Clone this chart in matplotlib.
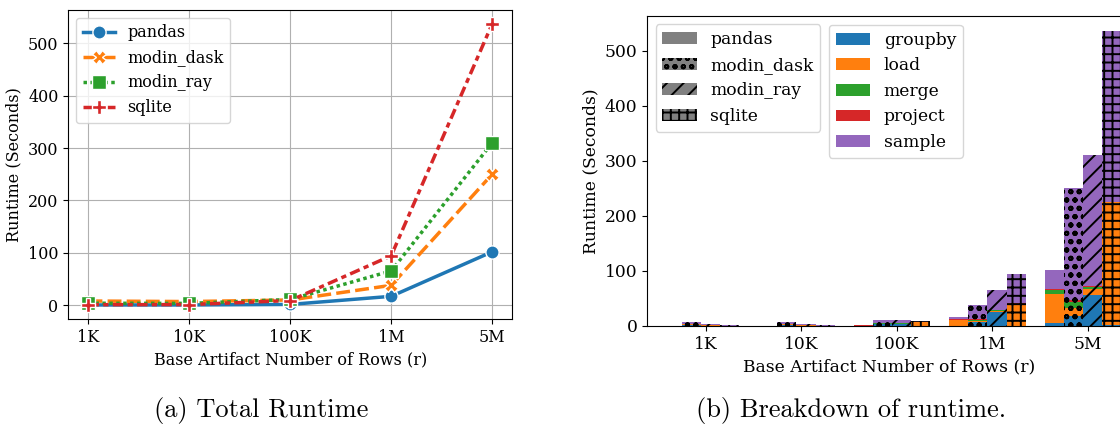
import numpy as np
import matplotlib
matplotlib.use("Agg")
import matplotlib.pyplot as plt
from matplotlib.patches import Patch

plt.rcParams['font.family'] = ['DejaVu Serif']
plt.rcParams['font.size'] = 12
plt.rcParams['hatch.linewidth'] = 1.4
plt.rcParams['hatch.color'] = 'black'

# ---------------- data ----------------
sizes = ['1K', '10K', '100K', '1M', '5M']
systems = ['pandas', 'modin_dask', 'modin_ray', 'sqlite']
operations = ['groupby', 'load', 'merge', 'project', 'sample']

# rows: groupby, load, merge, project, sample ; columns: sizes
pandas_times = [
    [0.1, 0.1, 0.3, 0.5, 5],
    [0.2, 0.2, 0.5, 11, 54],
    [0.05, 0.05, 0.1, 0.3, 7],
    [0.05, 0.05, 0.05, 0.2, 2],
    [0.1, 0.1, 0.6, 5, 34],
]
modin_dask_times = [
    [1.5, 1.2, 3, 7, 18],
    [2.5, 2.3, 1.5, 2.5, 15],
    [0.3, 0.3, 0.5, 2, 10],
    [0.2, 0.2, 0.2, 0.5, 4],
    [3.5, 3.0, 4.8, 26, 203],
]
modin_ray_times = [
    [0.8, 0.5, 3, 25, 56],
    [0.8, 1.5, 1.5, 2, 11],
    [0.8, 0.2, 0.5, 2, 4],
    [0.2, 0.1, 0.3, 0.5, 1],
    [1.2, 1.2, 5.7, 36, 238],
]
sqlite_times = [
    [0.05, 0.05, 0.3, 0.5, 1],
    [0.3, 0.5, 6.5, 40, 224],
    [0.05, 0.05, 0.1, 0.2, 0.5],
    [0.1, 0.1, 0.1, 0.5, 0.5],
    [0.5, 0.5, 2, 53.3, 311],
]

# ---------------- styles ----------------
sys_colors = ['#1f77b4', '#ff7f0e', '#2ca02c', '#d62728']
sys_markers = ['o', 'X', 's', 'P']
sys_dashes = [(None, None), (4, 1.5), (1, 1), (3, 1.25, 1.5, 1.25)]
sys_hatches = ['', 'oo', '//', '++']
op_colors = ['#1f77b4', '#ff7f0e', '#2ca02c', '#d62728', '#9467bd']
bar_offsets = [-0.35, -0.15, 0.05, 0.25]
bar_width = 0.2
fs_left = 11.5
fs_right = 12.3

all_times = [np.array(pandas_times), np.array(modin_dask_times),
             np.array(modin_ray_times), np.array(sqlite_times)]

fig = plt.figure(figsize=(11.2, 4.29), dpi=100)

# ---------------- left: total runtime ----------------
ax1 = fig.add_axes([68.3 / 1120, 110 / 429, 444 / 1120, 309 / 429])
x = np.arange(len(sizes))
for i, name in enumerate(systems):
    totals = all_times[i].sum(axis=0)
    line, = ax1.plot(x, totals, color=sys_colors[i], marker=sys_markers[i],
                     markersize=9.5, markeredgecolor='white', markeredgewidth=1,
                     linewidth=2.5, label=name)
    if sys_dashes[i][0] is not None:
        line.set_dashes(sys_dashes[i])
ax1.set_xticks(x)
ax1.set_xticklabels(sizes)
ax1.set_yticks([0, 100, 200, 300, 400, 500])
ax1.tick_params(labelsize=fs_left)
ax1.grid(True, color='#b0b0b0', linewidth=0.8)
ax1.set_axisbelow(True)
ax1.set_xlabel('Base Artifact Number of Rows (r)', fontsize=fs_left)
ax1.set_ylabel('Runtime (Seconds)', fontsize=fs_left)
ax1.legend(loc='upper left', fontsize=fs_left)

# ---------------- right: breakdown ----------------
xl, xr = -0.615, 4.45
w_px = (xr - xl) * 95.5
ax2 = fig.add_axes([647 / 1120, 103 / 429, w_px / 1120, 310.3 / 429])
for i, name in enumerate(systems):
    data = all_times[i]
    bottom = np.zeros(len(sizes))
    for j, op in enumerate(operations):
        ax2.bar(x + bar_offsets[i], data[j], width=bar_width, bottom=bottom,
                color=op_colors[j], hatch=sys_hatches[i], linewidth=0)
        bottom = bottom + data[j]
ax2.set_xlim(xl, xr)
ax2.set_ylim(0, 564)
ax2.set_xticks(x)
ax2.set_xticklabels(sizes)
ax2.set_yticks([0, 100, 200, 300, 400, 500])
ax2.tick_params(labelsize=fs_right)
ax2.set_xlabel('Base Artifact Number of Rows (r)', fontsize=fs_right)
ax2.set_ylabel('Runtime (Seconds)', fontsize=fs_right)

sys_handles = [Patch(facecolor='grey', hatch=sys_hatches[i], linewidth=0, label=s)
               for i, s in enumerate(systems)]
op_handles = [Patch(facecolor=op_colors[j], linewidth=0, label=o)
              for j, o in enumerate(operations)]
leg1 = ax2.legend(handles=sys_handles, loc='upper left', fontsize=fs_right)
ax2.add_artist(leg1)
ax2.legend(handles=op_handles, loc='upper left', fontsize=fs_right,
           bbox_to_anchor=(829 / 1120, 1 - 25 / 429),
           bbox_transform=fig.transFigure, borderaxespad=0)

# ---------------- captions ----------------
fig.text(261 / 1120, 1 - 411 / 429, '(a) Total Runtime', ha='center', va='center',
         fontsize=19, family=['cmr10', 'DejaVu Serif'])
fig.text(851 / 1120, 1 - 411 / 429, '(b) Breakdown of runtime.', ha='center', va='center',
         fontsize=19, family=['cmr10', 'DejaVu Serif'])

fig.savefig('out.png', dpi=100)
